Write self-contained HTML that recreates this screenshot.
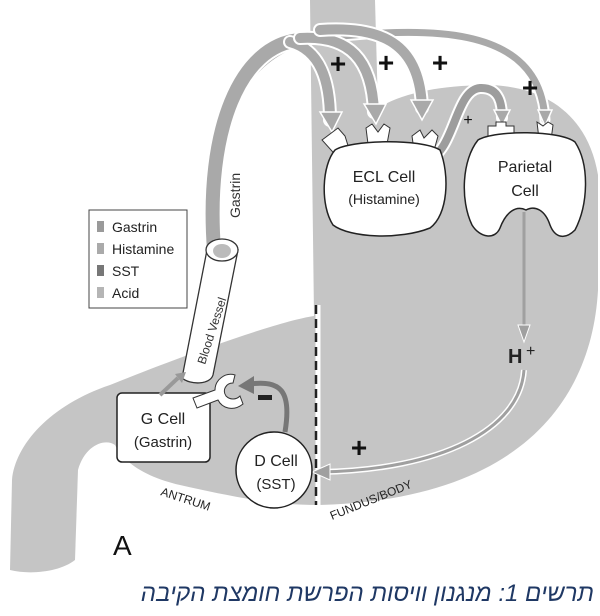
<!DOCTYPE html>
<html><head><meta charset="utf-8"><style>
body{margin:0;background:#fff;width:600px;height:616px;overflow:hidden;position:relative}
svg{display:block}
text{font-family:"Liberation Sans",sans-serif}
.cap{position:absolute;right:6px;top:580px;font:italic 24px "Liberation Sans","Noto Sans CJK SC",sans-serif;color:#1f3864;direction:rtl;white-space:nowrap}
</style></head><body>
<svg width="600" height="616" viewBox="0 0 600 616">
<path d="M310,0 L375,0 L378,108 C405,92 440,86 485,85 C545,85 588,115 598,175 L598,290 C592,400 520,500 318,505 C270,505 225,495 180,485 C150,478 125,465 115,445 C105,438 85,445 78,470 L75,560 C60,572 30,575 10,570 L12,480 C15,445 50,405 110,385 C160,365 200,350 245,335 C275,325 300,318 314,316 Z" fill="#c5c5c5"/>
<line x1="318" y1="305" x2="318" y2="505" stroke="#fff" stroke-width="5"/>
<line x1="316" y1="305" x2="316" y2="505" stroke="#222" stroke-width="2.5" stroke-dasharray="9,5"/>
<g fill="none" stroke-linecap="round">
<path d="M214,250 C205,140 235,50 320,38 C420,28 540,20 545,120" stroke="#fff" stroke-width="11"/>
<path d="M214,250 C205,140 235,50 320,38 C420,28 540,20 545,120" stroke="#a9a9a9" stroke-width="7"/>
<path d="M214,250 C205,130 240,45 300,40" stroke="#fff" stroke-width="18"/>
<path d="M214,250 C205,130 240,45 300,40" stroke="#a9a9a9" stroke-width="14"/>
<path d="M290,42 C320,50 330,80 330,120" stroke="#fff" stroke-width="14"/>
<path d="M290,42 C320,50 330,80 330,120" stroke="#a9a9a9" stroke-width="10"/>
<path d="M300,38 C350,35 372,60 374,112" stroke="#fff" stroke-width="14"/>
<path d="M300,38 C350,35 372,60 374,112" stroke="#a9a9a9" stroke-width="10"/>
<path d="M320,30 C390,25 420,50 422,108" stroke="#fff" stroke-width="14"/>
<path d="M320,30 C390,25 420,50 422,108" stroke="#a9a9a9" stroke-width="10"/>
<path d="M428,160 C455,150 455,90 480,88 C500,87 502,105 502,118" stroke="#fff" stroke-width="12"/>
<path d="M428,160 C455,150 455,90 480,88 C500,87 502,105 502,118" stroke="#9d9d9d" stroke-width="8"/>
</g>
<g fill="#a9a9a9" stroke="#fff" stroke-width="1.5">
<polygon points="320,112 342,112 332,132"/>
<polygon points="364,104 386,104 376,124"/>
<polygon points="411,100 433,100 422,120"/>
<polygon points="538,110 552,110 545,126"/>
<polygon points="494,110 510,110 502,126"/>
</g>
<g fill="#fff" stroke="#333" stroke-width="1">
<polygon points="322,140 338,128 345,136 350,152 340,160"/>
<polygon points="366,128 372,124 378,132 384,124 390,128 384,160 370,160"/>
<polygon points="412,136 420,130 424,138 432,130 438,136 430,165 416,165"/>
<path d="M488,126 L496,126 L496,122 L506,122 L506,126 L514,126 L514,145 L488,145 Z"/>
<polygon points="537,122 543,126 548,122 553,125 550,148 540,148"/>
</g>
<path d="M335,150 C350,140 420,138 440,150 C450,175 448,215 430,228 C400,240 350,238 333,225 C320,205 322,165 335,150 Z" fill="#fff" stroke="#222" stroke-width="1.5"/>
<text x="384" y="182" font-size="16" text-anchor="middle" fill="#222">ECL Cell</text>
<text x="384" y="204" font-size="14" text-anchor="middle" fill="#222">(Histamine)</text>
<path d="M478,140 C495,130 560,130 575,142 C590,165 588,205 575,230 C565,240 555,238 550,225 C545,210 535,205 526,210 C516,205 506,212 500,228 C495,240 480,238 472,225 C460,200 462,160 478,140 Z" fill="#fff" stroke="#222" stroke-width="1.5"/>
<text x="525" y="172" font-size="16" text-anchor="middle" fill="#222">Parietal</text>
<text x="525" y="196" font-size="16" text-anchor="middle" fill="#222">Cell</text>
<g font-size="28" fill="#111" font-weight="bold" text-anchor="middle">
<text x="338" y="73">+</text><text x="386" y="72">+</text><text x="440" y="72">+</text><text x="530" y="97">+</text>
<text x="468" y="125" font-size="16" font-weight="normal">+</text>
<text x="359" y="457">+</text>
</g>
<line x1="524" y1="212" x2="524" y2="335" stroke="#a0a0a0" stroke-width="3"/>
<polygon points="518,325 530,325 524,342" fill="#a0a0a0" stroke="#fff"/>
<text x="508" y="363" font-size="20" font-weight="bold" fill="#222">H</text>
<text x="526" y="356" font-size="16" fill="#222">+</text>
<path d="M524,370 C520,430 440,470 320,472" fill="none" stroke="#fff" stroke-width="6"/>
<path d="M524,370 C520,430 440,470 320,472" fill="none" stroke="#a0a0a0" stroke-width="3"/>
<polygon points="312,472 330,464 330,480" fill="#a0a0a0" stroke="#fff"/>
<path d="M207,250 L238,250 L213,375 C210,385 190,385 182,378 Z" fill="#fff" stroke="#333" stroke-width="1.3"/>
<ellipse cx="222" cy="250" rx="16" ry="11" fill="#fff" stroke="#333" stroke-width="1.3"/>
<ellipse cx="222" cy="251" rx="9" ry="7" fill="#bbb"/>
<text transform="translate(205,365) rotate(-72)" font-size="12" fill="#333">Blood Vessel</text>
<text transform="translate(240,218) rotate(-90)" font-size="14" fill="#333">Gastrin</text>
<rect x="89" y="210" width="98" height="98" fill="#fff" stroke="#444" stroke-width="1"/>
<g font-size="14" fill="#222">
<rect x="97" y="221" width="7" height="11" fill="#9a9a9a"/><text x="112" y="232">Gastrin</text>
<rect x="97" y="243" width="7" height="11" fill="#aaa"/><text x="112" y="254">Histamine</text>
<rect x="97" y="265" width="7" height="11" fill="#777"/><text x="112" y="276">SST</text>
<rect x="97" y="287" width="7" height="11" fill="#b5b5b5"/><text x="112" y="298">Acid</text>
</g>
<rect x="117" y="393" width="93" height="69" rx="5" fill="#fff" stroke="#222" stroke-width="1.5"/>
<text x="163" y="424" font-size="16" text-anchor="middle" fill="#222">G Cell</text>
<text x="163" y="447" font-size="15" text-anchor="middle" fill="#222">(Gastrin)</text>
<path d="M160,395 L178,378" stroke="#999" stroke-width="4"/>
<polygon points="175,374 186,372 182,383" fill="#999"/>
<path d="M193,398 L215,390 C215,380 225,372 235,375 L233,383 C226,383 222,390 226,396 C230,400 236,400 240,396 L243,404 C233,412 222,408 218,400 L197,408 Z" fill="#fff" stroke="#333" stroke-width="1"/>
<path d="M285,432 C292,390 280,380 250,384" fill="none" stroke="#777" stroke-width="5"/>
<polygon points="238,386 254,376 254,394" fill="#777"/>
<rect x="258" y="395" width="14" height="5" fill="#222"/>
<circle cx="274" cy="470" r="38" fill="#fff" stroke="#222" stroke-width="1.5"/>
<text x="276" y="466" font-size="16" text-anchor="middle" fill="#222">D Cell</text>
<text x="276" y="489" font-size="15" text-anchor="middle" fill="#222">(SST)</text>
<text transform="translate(160,495) rotate(18)" font-size="12" fill="#222">ANTRUM</text>
<text transform="translate(332,520) rotate(-22)" font-size="12" fill="#222">FUNDUS/BODY</text>
<text x="113" y="555" font-size="28" fill="#111">A</text>
</svg>
<div class="cap">תרשים 1: מנגנון וויסות הפרשת חומצת הקיבה</div>
</body></html>
